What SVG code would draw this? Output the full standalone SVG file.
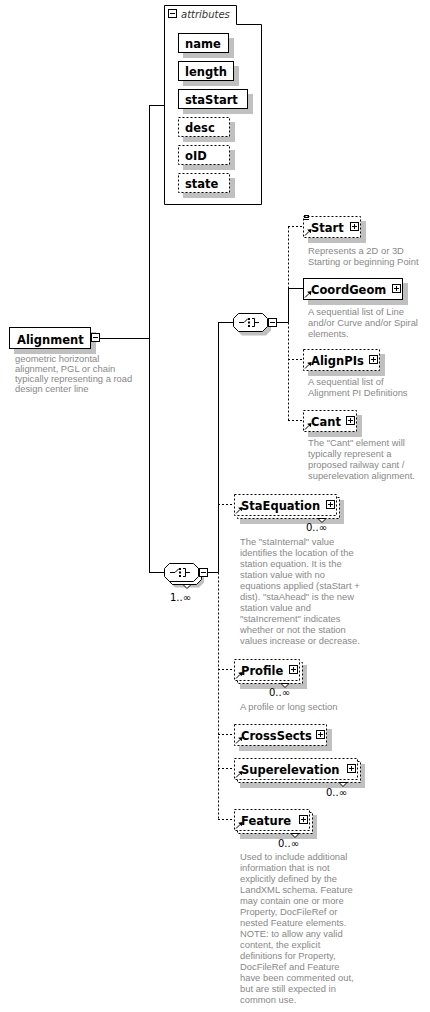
<svg xmlns="http://www.w3.org/2000/svg" width="430" height="1012" viewBox="0 0 430 1012">
<style>
.sh{fill:#c0c0c0}
.bx{fill:#fff;stroke:#000;stroke-width:1}
.dbx{fill:#fff;stroke:#000;stroke-width:1;stroke-dasharray:2,2}
.ln{fill:none;stroke:#000;stroke-width:1}
.dln{fill:none;stroke:#000;stroke-width:1;stroke-dasharray:2,2}
.nm{font-family:"DejaVu Sans",sans-serif;font-weight:bold;font-size:11.5px;fill:#000}
.ds{font-family:"Liberation Sans",Arial,sans-serif;font-size:9.4px;fill:#888}
.oc{font-family:"DejaVu Sans",sans-serif;font-size:10px;fill:#000}
.at{font-family:"DejaVu Sans",sans-serif;font-style:italic;font-size:10px;fill:#333}
.btn{fill:#fff;stroke:#000;stroke-width:1}
.v{fill:#fff;stroke:#000;stroke-width:1}
</style>
<defs>
<g id="plus"><rect class="btn" x="0.5" y="0.5" width="8" height="8"/><path class="ln" d="M2 4.5H7M4.5 2V7"/></g>
<g id="minus"><rect class="btn" x="0.5" y="0.5" width="8" height="8"/><path class="ln" d="M2 4.5H7"/></g>
<g id="ref"><path class="ln" stroke-width="1.4" d="M2 19.5L6 15.5"/><path d="M8.5 13L4.2 13.8L7.7 17.3Z"/></g>
<path id="oct" d="M5 0.5H29L34 5.5V13.5L29 18.5H5L0 13.5V5.5Z"/>
<g id="icon" class="ln"><path d="M6 9.5H11L15 5.5"/><rect x="15" y="5" width="2" height="2" fill="#000" stroke="none"/><rect x="15" y="8.5" width="2" height="2" fill="#000" stroke="none"/><rect x="15" y="12" width="2" height="2" fill="#000" stroke="none"/><path d="M19 5.5H21.5V13.5H19M21.5 9.5H26"/></g>
</defs>
<rect width="430" height="1012" fill="#fff"/>

<g id="connectors">
<path class="ln" d="M100 338.5H149.5M149.5 105.5V572.5M149 105.5H164M149 572.5H164M208 572.5H218.5M218.5 322.5V572.5M218 322.5H233M277 322.5H288.5M288.5 288.5V322.5M288 288.5H303"/>
<path class="dln" d="M288.5 226.5V288.5M288.5 322.5V420.5M288 226.5H303M288 359.5H303M288 420.5H303M218.5 572.5V819.5M218 504.5H234M218 669.5H234M218 734.5H234M218 768.5H234M218 819.5H234"/>
</g>

<g id="attributes">
<path class="bx" d="M164.5 5.5H236.5V24.5H261.5V204.5H164.5Z"/>
<use href="#minus" x="168" y="9"/>
<text class="at" x="181" y="18">attributes</text>
<g id="attr-name"><rect class="sh" x="183" y="38" width="51" height="20"/><rect class="bx" x="178.5" y="33.5" width="50" height="19"/><text class="nm" x="185" y="48">name</text></g>
<g id="attr-length"><rect class="sh" x="183" y="66" width="56" height="20"/><rect class="bx" x="178.5" y="61.5" width="55" height="19"/><text class="nm" x="185" y="76">length</text></g>
<g id="attr-staStart"><rect class="sh" x="183" y="94" width="70" height="20"/><rect class="bx" x="178.5" y="89.5" width="69" height="19"/><text class="nm" x="185" y="104">staStart</text></g>
<g id="attr-desc"><rect class="sh" x="183" y="122" width="52" height="20"/><rect class="dbx" x="178.5" y="117.5" width="51" height="19"/><text class="nm" x="185" y="132">desc</text></g>
<g id="attr-oID"><rect class="sh" x="183" y="150" width="52" height="20"/><rect class="dbx" x="178.5" y="145.5" width="51" height="19"/><text class="nm" x="185" y="160">oID</text></g>
<g id="attr-state"><rect class="sh" x="183" y="178" width="52" height="20"/><rect class="dbx" x="178.5" y="173.5" width="51" height="19"/><text class="nm" x="185" y="188">state</text></g>
</g>

<g id="Alignment">
<rect class="sh" x="14" y="332" width="82" height="22"/>
<rect class="bx" x="9.5" y="327.5" width="81" height="21"/>
<text class="nm" x="17" y="343.5">Alignment</text>
<use href="#minus" x="91" y="333"/>
<text class="ds" x="15" y="361.5">geometric horizontal<tspan x="15" dy="10.3">alignment, PGL or chain</tspan><tspan x="15" dy="10.3">typically representing a road</tspan><tspan x="15" dy="10.3">design center line</tspan></text>
</g>

<g id="choice-main">
<use href="#oct" class="sh" x="170" y="569"/>
<use href="#oct" class="bx" x="167.5" y="566"/>
<use href="#oct" class="bx" x="164.5" y="563"/>
<use href="#icon" x="164" y="563"/>
<path class="v" d="M183 584.5H191L187 588.5Z"/>
<use href="#minus" x="199" y="568"/>
<text class="oc" x="170" y="601">1..∞</text>
</g>

<g id="choice-geom">
<use href="#oct" class="sh" x="237" y="317"/>
<use href="#oct" class="bx" x="233.5" y="313"/>
<use href="#icon" x="233" y="313"/>
<use href="#minus" x="268" y="318"/>
</g>

<g id="Start">
<rect class="sh" x="308" y="221" width="58" height="22"/>
<rect class="dbx" x="303.5" y="216.5" width="57" height="21"/>
<path class="ln" d="M304 215.5H309M304 217.5H309M304 219.5H309"/>
<use href="#ref" x="303" y="216"/>
<text class="nm" x="311" y="232">Start</text>
<use href="#plus" x="350" y="222"/>
<text class="ds" x="308" y="253.5">Represents a 2D or 3D<tspan x="308" dy="11">Starting or beginning Point</tspan></text>
</g>

<g id="CoordGeom">
<rect class="sh" x="308" y="283" width="100" height="22"/>
<rect class="bx" x="303.5" y="278.5" width="99" height="21"/>
<use href="#ref" x="303" y="278"/>
<text class="nm" x="311" y="294">CoordGeom</text>
<use href="#plus" x="392" y="284"/>
<text class="ds" x="308" y="314.5">A sequential list of Line<tspan x="308" dy="11">and/or Curve and/or Spiral</tspan><tspan x="308" dy="11">elements.</tspan></text>
</g>

<g id="AlignPIs">
<rect class="sh" x="308" y="354" width="77" height="22"/>
<rect class="dbx" x="303.5" y="349.5" width="76" height="21"/>
<use href="#ref" x="303" y="349"/>
<text class="nm" x="311" y="365">AlignPIs</text>
<use href="#plus" x="369" y="355"/>
<text class="ds" x="308" y="384.5">A sequential list of<tspan x="308" dy="11">Alignment PI Definitions</tspan></text>
</g>

<g id="Cant">
<rect class="sh" x="308" y="415" width="54" height="22"/>
<rect class="dbx" x="303.5" y="410.5" width="53" height="21"/>
<use href="#ref" x="303" y="410"/>
<text class="nm" x="311" y="426">Cant</text>
<use href="#plus" x="346" y="416"/>
<text class="ds" x="308" y="445.5">The "Cant" element will<tspan x="308" dy="11">typically represent a</tspan><tspan x="308" dy="11">proposed railway cant /</tspan><tspan x="308" dy="11">superelevation alignment.</tspan></text>
</g>

<g id="StaEquation">
<rect class="sh" x="240" y="500" width="104" height="24"/>
<rect class="dbx" x="237.5" y="497.5" width="102" height="21"/>
<rect class="dbx" x="234.5" y="494.5" width="102" height="21"/>
<use href="#ref" x="234" y="494"/>
<text class="nm" x="241" y="510">StaEquation</text>
<use href="#plus" x="326" y="500"/>
<path class="v" d="M318 518.5H326L322 522.5Z"/>
<text class="oc" x="327" y="531" text-anchor="end">0..∞</text>
<text class="ds" x="240" y="545">The "staInternal" value<tspan x="240" dy="11">identifies the location of the</tspan><tspan x="240" dy="11">station equation. It is the</tspan><tspan x="240" dy="11">station value with no</tspan><tspan x="240" dy="11">equations applied (staStart +</tspan><tspan x="240" dy="11">dist). "staAhead" is the new</tspan><tspan x="240" dy="11">station value and</tspan><tspan x="240" dy="11">"staIncrement" indicates</tspan><tspan x="240" dy="11">whether or not the station</tspan><tspan x="240" dy="11">values increase or decrease.</tspan></text>
</g>

<g id="Profile">
<rect class="sh" x="240" y="665" width="67" height="24"/>
<rect class="dbx" x="237.5" y="662.5" width="65" height="21"/>
<rect class="dbx" x="234.5" y="659.5" width="65" height="21"/>
<use href="#ref" x="234" y="659"/>
<text class="nm" x="241" y="675">Profile</text>
<use href="#plus" x="289" y="665"/>
<path class="v" d="M281 683.5H289L285 687.5Z"/>
<text class="oc" x="290" y="696" text-anchor="end">0..∞</text>
<text class="ds" x="240" y="710">A profile or long section</text>
</g>

<g id="CrossSects">
<rect class="sh" x="239" y="729" width="93" height="22"/>
<rect class="dbx" x="234.5" y="724.5" width="92" height="21"/>
<use href="#ref" x="234" y="724"/>
<text class="nm" x="241" y="740">CrossSects</text>
<use href="#plus" x="316" y="730"/>
</g>

<g id="Superelevation">
<rect class="sh" x="240" y="764" width="125" height="24"/>
<rect class="dbx" x="237.5" y="761.5" width="123" height="21"/>
<rect class="dbx" x="234.5" y="758.5" width="123" height="21"/>
<use href="#ref" x="234" y="758"/>
<text class="nm" x="241" y="774">Superelevation</text>
<use href="#plus" x="347" y="764"/>
<path class="v" d="M339 782.5H347L343 786.5Z"/>
<text class="oc" x="347" y="796" text-anchor="end">0..∞</text>
</g>

<g id="Feature">
<rect class="sh" x="240" y="815" width="77" height="24"/>
<rect class="dbx" x="237.5" y="812.5" width="75" height="21"/>
<rect class="dbx" x="234.5" y="809.5" width="75" height="21"/>
<use href="#ref" x="234" y="809"/>
<text class="nm" x="241" y="825">Feature</text>
<use href="#plus" x="299" y="815"/>
<path class="v" d="M291 833.5H299L295 837.5Z"/>
<text class="oc" x="299" y="847" text-anchor="end">0..∞</text>
<text class="ds" x="240" y="860">Used to include additional<tspan x="240" dy="11">information that is not</tspan><tspan x="240" dy="11">explicitly defined by the</tspan><tspan x="240" dy="11">LandXML schema. Feature</tspan><tspan x="240" dy="11">may contain one or more</tspan><tspan x="240" dy="11">Property, DocFileRef or</tspan><tspan x="240" dy="11">nested Feature elements.</tspan><tspan x="240" dy="11">NOTE: to allow any valid</tspan><tspan x="240" dy="11">content, the explicit</tspan><tspan x="240" dy="11">definitions for Property,</tspan><tspan x="240" dy="11">DocFileRef and Feature</tspan><tspan x="240" dy="11">have been commented out,</tspan><tspan x="240" dy="11">but are still expected in</tspan><tspan x="240" dy="11">common use.</tspan></text>
</g>
</svg>
